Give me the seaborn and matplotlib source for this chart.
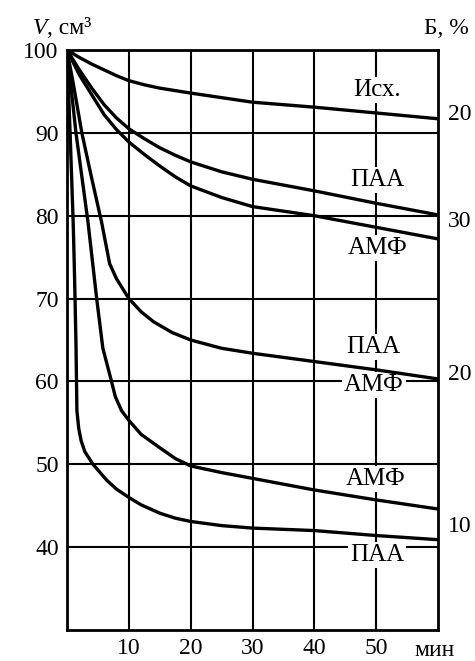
import matplotlib
matplotlib.use("Agg")
import matplotlib.pyplot as plt
import seaborn as sns
import pandas as pd

# Volume V (cm^3) versus time (min) for the six sedimentation curves
t_ish = [0, 2, 4, 6, 8, 10, 12.5, 15, 20, 30, 40, 50, 60]
v_ish = [100, 99.1, 98.3, 97.6, 96.9, 96.3, 95.8, 95.4, 94.8, 93.7, 93.1, 92.4, 91.7]

t_paa1 = [0, 2, 4, 6, 8, 10, 12.5, 15, 17.5, 20, 25, 30, 40, 50, 60]
v_paa1 = [100, 97.6, 95.4, 93.4, 91.8, 90.5, 89.3, 88.2, 87.3, 86.5, 85.3, 84.4, 83.0, 81.5, 80.1]

t_amf1 = [0, 2, 4, 6, 8, 10, 12.5, 15, 17.5, 20, 25, 30, 40, 50, 60]
v_amf1 = [100, 97.0, 94.6, 92.2, 90.4, 88.9, 87.4, 86.0, 84.7, 83.6, 82.2, 81.1, 80.0, 78.6, 77.2]

t_paa2 = [0, 1, 2.4, 4, 5.6, 6.9, 8, 10, 12, 14, 17, 20, 25, 30, 40, 50, 60]
v_paa2 = [100, 96, 90, 84.5, 79.2, 74.2, 72.4, 70, 68.4, 67.2, 65.9, 65.0, 64.0, 63.4, 62.4, 61.4, 60.3]

t_amf2 = [0, 1.45, 3.4, 4.8, 5.8, 7.2, 7.8, 8.8, 10, 12, 15, 17.5, 20, 25, 30, 40, 50, 60]
v_amf2 = [100, 90, 79.2, 70, 64, 60, 58.2, 56.5, 55.3, 53.6, 52, 50.7, 49.8, 49.0, 48.3, 46.9, 45.7, 44.6]

t_paa3 = [0, 0.5, 1.0, 1.13, 1.3, 1.46, 1.6, 1.9, 2.3, 2.9, 4.2, 6.4, 8, 10, 12, 15, 17.5, 20, 25, 30, 40, 50, 60]
v_paa3 = [100, 90, 79.2, 75.5, 70, 64.2, 56.5, 54.3, 52.8, 51.5, 50, 48.1, 47.0, 46, 45.1, 44.1, 43.5, 43.1, 42.6, 42.3, 42, 41.4, 40.9]

curves = [(t_ish, v_ish), (t_paa1, v_paa1), (t_amf1, v_amf1),
          (t_paa2, v_paa2), (t_amf2, v_amf2), (t_paa3, v_paa3)]

# Curve captions: (text, t, V)
captions = [("Исх.", 50.2, 95.2), ("ПАА", 50.2, 84.3), ("АМФ", 50.2, 76.1),
            ("ПАА", 49.6, 64.1), ("АМФ", 49.6, 59.6), ("АМФ", 49.9, 48.2),
            ("ПАА", 50.2, 39.1)]

x_ticks = [10, 20, 30, 40, 50]
y_ticks = [40, 50, 60, 70, 80, 90, 100]

# Secondary scale Б, % written along the right side: (text, y pixel from top)
b_labels = [("20", 115), ("30", 222), ("20", 375), ("10", 527)]

sns.set_theme(style="white")
plt.rcParams["font.family"] = ["Liberation Serif", "DejaVu Serif"]

fig = plt.figure(figsize=(4.75, 6.61), dpi=100)
W, H = 475, 661
ax = fig.add_axes([67 / W, 1 - 630 / H, (438 - 67) / W, (630 - 50) / H])

for t, v in curves:
    df = pd.DataFrame({"t": t, "V": v})
    sns.lineplot(data=df, x="t", y="V", ax=ax, color="black", lw=2.4,
                 sort=False, estimator=None, zorder=3)

ax.set_xlim(0, 60)
ax.set_ylim(30, 100)
ax.set_xticks(x_ticks)
ax.set_yticks(y_ticks)
ax.set_xticklabels([str(x) for x in x_ticks])
ax.set_yticklabels([str(y) for y in y_ticks])
ax.set_xlabel("")
ax.set_ylabel("")
ax.tick_params(axis="both", length=0, labelsize=17, colors="black")
ax.tick_params(axis="x", pad=6)
ax.tick_params(axis="y", pad=6)
ax.set_axisbelow(True)
ax.grid(True, color="black", lw=1.5)
for s in ax.spines.values():
    s.set_visible(True)
    s.set_color("black")
    s.set_linewidth(2.0)

for txt, x, y in captions:
    ax.text(x, y, txt, ha="center", va="center", fontsize=18, color="black",
            zorder=2,
            bbox=dict(facecolor="white", edgecolor="none", pad=1.5))

# unit of the time axis
fig.text(435 / W, 1 - 650 / H, "мин", ha="center", va="center",
         fontsize=17, color="black")

# y-axis caption "V, см³" with italic V
vt = fig.text(33 / W, 1 - 34 / H, "V", fontsize=17, style="italic",
              ha="left", va="baseline", color="black")
ax.annotate(", см³", xy=(1, 0), xycoords=vt, ha="left", va="bottom",
            fontsize=17, color="black", annotation_clip=False)

fig.text(446 / W, 1 - 28 / H, "Б, %", fontsize=17, ha="center",
         va="center", color="black")
for txt, yp in b_labels:
    fig.text(460 / W, 1 - yp / H, txt, fontsize=17, ha="center",
             va="center", color="black")

fig.savefig("out.png", dpi=100, facecolor="white")
